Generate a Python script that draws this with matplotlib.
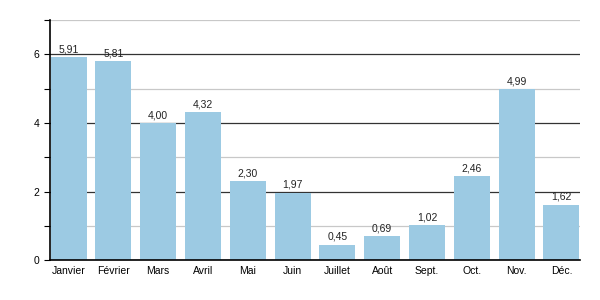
import matplotlib
matplotlib.use('Agg')
import matplotlib.pyplot as plt
from matplotlib.ticker import MultipleLocator

plt.rcParams['font.family'] = ['Liberation Sans', 'DejaVu Sans']

mois = ['Janvier', 'Février', 'Mars', 'Avril', 'Mai', 'Juin',
        'Juillet', 'Août', 'Sept.', 'Oct.', 'Nov.', 'Déc.']
valeurs = [5.91, 5.81, 4.00, 4.32, 2.30, 1.97, 0.45, 0.69, 1.02, 2.46, 4.99, 1.62]

fig = plt.figure(figsize=(6, 3), dpi=100)
ax = fig.add_axes([0.083, 0.133, 0.884, 0.8])

x = range(len(mois))
ax.bar(x, valeurs, width=0.8, color='#9ccae3', zorder=2)

# grille : majeures foncees, mineures claires
ax.set_ylim(0, 7)
ax.set_xlim(-0.42, 11.42)
ax.yaxis.set_major_locator(MultipleLocator(2))
ax.yaxis.set_minor_locator(MultipleLocator(1))
ax.grid(which='major', axis='y', color='#333333', linewidth=0.9, zorder=1)
ax.grid(which='minor', axis='y', color='#c8c8c8', linewidth=0.9, zorder=1)

for i, v in enumerate(valeurs):
    ax.text(i, v + 0.08, f'{v:.2f}'.replace('.', ','), ha='center', va='bottom',
            fontsize=7.5, color='#222222')

ax.set_xticks(list(x))
ax.set_xticklabels(mois, fontsize=7.5)
ax.tick_params(axis='y', labelsize=7.5, length=4, width=0.8)
ax.tick_params(axis='y', which='minor', length=4, width=0.8)
ax.tick_params(axis='x', length=0, pad=4)

ax.spines['top'].set_visible(False)
ax.spines['right'].set_visible(False)
ax.spines['left'].set_linewidth(1.2)
ax.spines['bottom'].set_linewidth(1.2)

fig.savefig('out.png', dpi=100)
